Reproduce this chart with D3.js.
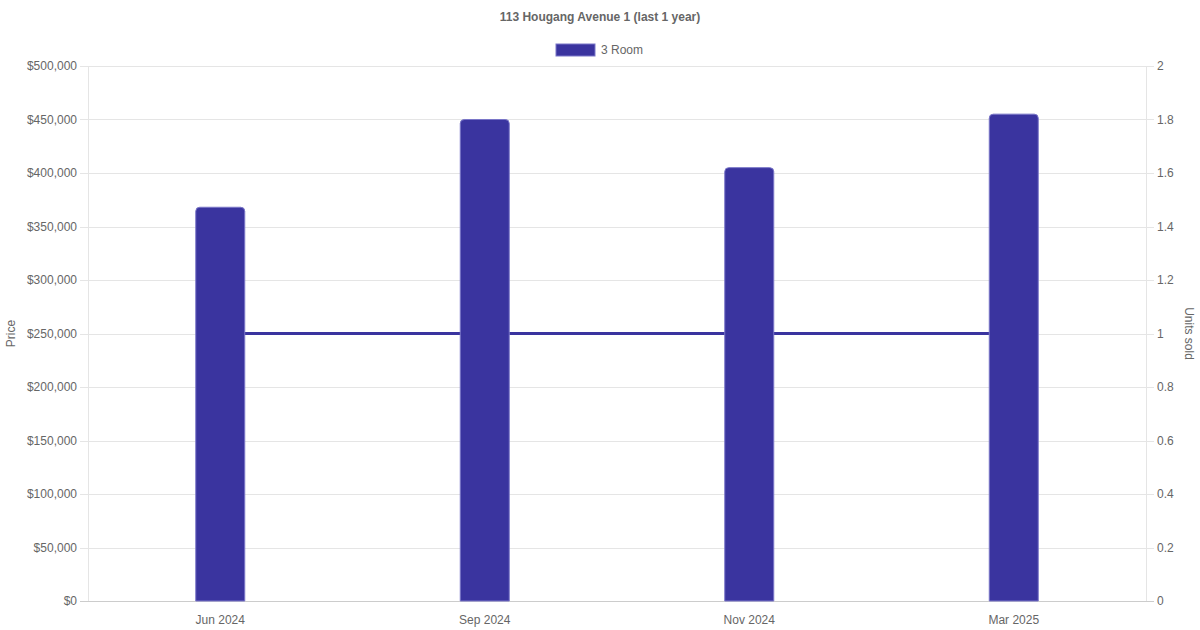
<!DOCTYPE html>
<html>
<head>
<meta charset="utf-8">
<script src="https://cdn.jsdelivr.net/npm/d3@7"></script>
<style>
  body { margin: 0; background: #fff; }
  text { font-family: "Liberation Sans", Arial, Helvetica, sans-serif; }
</style>
</head>
<body>
<div id="chart"></div>
<script>
const months = ["Jun 2024", "Sep 2024", "Nov 2024", "Mar 2025"];
const prices = [368000, 450000, 405000, 455000];
const unitsSold = [1, 1, 1, 1];
const priceTicks = [0, 50000, 100000, 150000, 200000, 250000, 300000, 350000, 400000, 450000, 500000];
const unitTicks = [0, 0.2, 0.4, 0.6, 0.8, 1, 1.2, 1.4, 1.6, 1.8, 2];

const width = 1200, height = 630;
const margin = { top: 66, right: 54, bottom: 29, left: 88 };
const barColor = "#3a349f";
const textColor = "#666";
const gridColor = "#e5e5e5";

const svg = d3.select("#chart")
  .append("svg")
  .attr("width", width)
  .attr("height", height);

const x = d3.scaleBand()
  .domain(months)
  .range([margin.left, width - margin.right]);

const y = d3.scaleLinear()
  .domain([0, 500000])
  .range([height - margin.bottom, margin.top]);

const y2 = d3.scaleLinear()
  .domain([0, 2])
  .range([height - margin.bottom, margin.top]);

const fmt = d => "$" + d3.format(",")(d);

// grid lines + left ticks
svg.append("g")
  .selectAll("line")
  .data(priceTicks)
  .enter()
  .append("line")
  .attr("x1", margin.left - 8)
  .attr("x2", width - margin.right + 8)
  .attr("y1", d => Math.round(y(d)) + 0.5)
  .attr("y2", d => Math.round(y(d)) + 0.5)
  .attr("stroke", d => d === 0 ? "#ccc" : gridColor)
  .attr("stroke-width", 1);

// vertical borders
svg.append("line")
  .attr("x1", margin.left + 0.5).attr("x2", margin.left + 0.5)
  .attr("y1", margin.top).attr("y2", height - margin.bottom)
  .attr("stroke", gridColor);
svg.append("line")
  .attr("x1", width - margin.right + 0.5).attr("x2", width - margin.right + 0.5)
  .attr("y1", margin.top).attr("y2", height - margin.bottom)
  .attr("stroke", gridColor);

// left tick labels
svg.append("g")
  .selectAll("text")
  .data(priceTicks)
  .enter()
  .append("text")
  .attr("x", margin.left - 11)
  .attr("y", d => y(d))
  .attr("dy", "0.35em")
  .attr("text-anchor", "end")
  .attr("font-size", "12px")
  .attr("fill", textColor)
  .text(fmt);

// right tick labels
svg.append("g")
  .selectAll("text")
  .data(unitTicks)
  .enter()
  .append("text")
  .attr("x", width - margin.right + 11)
  .attr("y", d => y2(d))
  .attr("dy", "0.35em")
  .attr("text-anchor", "start")
  .attr("font-size", "12px")
  .attr("fill", textColor)
  .text(d => d3.format("~g")(d));

// x labels
svg.append("g")
  .selectAll("text")
  .data(months)
  .enter()
  .append("text")
  .attr("x", d => x(d) + x.bandwidth() / 2)
  .attr("y", height - margin.bottom + 19)
  .attr("dy", "0.35em")
  .attr("text-anchor", "middle")
  .attr("font-size", "12px")
  .attr("fill", textColor)
  .text(d => d);

// units line (behind bars)
const line = d3.line()
  .x((d, i) => x(months[i]) + x.bandwidth() / 2)
  .y(d => y2(d));

svg.append("path")
  .datum(unitsSold)
  .attr("d", line)
  .attr("fill", "none")
  .attr("stroke", barColor)
  .attr("stroke-width", 3);

// bars with rounded top
const barW = 49, r = 4;
const barPath = (cx, top, bottom) => {
  const x0 = cx - barW / 2, x1 = cx + barW / 2;
  return `M${x0},${bottom} L${x0},${top + r} Q${x0},${top} ${x0 + r},${top} ` +
    `L${x1 - r},${top} Q${x1},${top} ${x1},${top + r} L${x1},${bottom} Z`;
};

svg.append("g")
  .selectAll("path")
  .data(prices)
  .enter()
  .append("path")
  .attr("d", (d, i) => barPath(x(months[i]) + x.bandwidth() / 2, y(d), y(0)))
  .attr("fill", barColor)
  .attr("stroke", "#7a76c8")
  .attr("stroke-width", 1);

// axis titles
svg.append("text")
  .attr("transform", `translate(15, ${(margin.top + height - margin.bottom) / 2}) rotate(-90)`)
  .attr("text-anchor", "middle")
  .attr("font-size", "12px")
  .attr("fill", textColor)
  .text("Price");

svg.append("text")
  .attr("transform", `translate(1185, ${(margin.top + height - margin.bottom) / 2}) rotate(90)`)
  .attr("text-anchor", "middle")
  .attr("font-size", "12px")
  .attr("fill", textColor)
  .text("Units sold");

// title
svg.append("text")
  .attr("x", width / 2)
  .attr("y", 17)
  .attr("dy", "0.35em")
  .attr("text-anchor", "middle")
  .attr("font-size", "12px")
  .attr("font-weight", "bold")
  .attr("fill", textColor)
  .text("113 Hougang Avenue 1 (last 1 year)");

// legend
const legend = svg.append("g");
legend.append("rect")
  .attr("x", 556).attr("y", 44)
  .attr("width", 39).attr("height", 12)
  .attr("fill", barColor)
  .attr("stroke", "#7a76c8")
  .attr("stroke-width", 1);
legend.append("text")
  .attr("x", 601)
  .attr("y", 50)
  .attr("dy", "0.35em")
  .attr("font-size", "12px")
  .attr("fill", textColor)
  .text("3 Room");
</script>
</body>
</html>
